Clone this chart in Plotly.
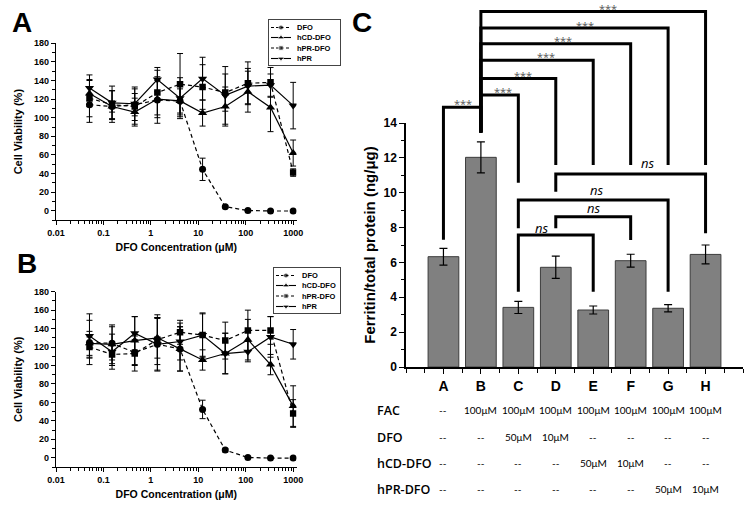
import plotly.graph_objects as go

W, H = 750, 511

# ---------------- data: panels A and B (cell viability, %) ----------------
conc_uM = [0.0508, 0.152, 0.457, 1.37, 4.12, 12.3, 37.0, 111.0, 333.0, 1000.0]
series_names = ["DFO", "hCD-DFO", "hPR-DFO", "hPR"]

a_dfo = [114, 112, 114, 119, 118, 44.5, 4.3, 0.2, -0.3, -0.3]
a_dfo_err = [19, 6, 12, 25, 17, 12, 1.5, 0.5, 0.5, 0.5]
a_hcd = [126, 112, 106, 120, 118, 105, 112, 128, 111, 62]
a_hcd_err = [14, 17, 15, 20, 13, 14, 21, 22, 26, 14]
a_hprdfo = [121, 114, 112, 127, 136, 133, 127, 137, 138, 41]
a_hprdfo_err = [20, 15, 19, 24, 33, 24, 20, 23, 16, 4]
a_hpr = [132, 116, 115, 141, 121, 142, 124, 134, 135, 113]
a_hpr_err = [14, 18, 18, 13, 22, 23, 31, 19, 12, 25]

b_dfo = [125, 124, 114, 123, 118, 52.4, 8.3, 0.3, -0.3, -0.3]
b_dfo_err = [24, 18, 14, 28, 24, 10, 2, 0.6, 0.5, 0.5]
b_hcd = [124, 123, 127, 130, 118, 106, 113, 128, 101, 56]
b_hcd_err = [13, 21, 26, 22, 24, 11, 22, 22, 11, 22]
b_hprdfo = [120, 112, 113, 128, 136, 133, 127, 138, 138, 48]
b_hprdfo_err = [11, 12, 19, 27, 13, 24, 20, 22, 15, 15]
b_hpr = [132, 115, 135, 123, 126, 133, 113, 115, 131, 123]
b_hpr_err = [24, 19, 18, 29, 20, 23, 22, 11, 22, 16]

x_tick_vals = [0.01, 0.1, 1, 10, 100, 1000]
x_tick_text = ["0.01", "0.1", "1", "10", "100", "1000"]
y_tick_vals_ab = [0, 20, 40, 60, 80, 100, 120, 140, 160, 180]

# ---------------- data: panel C (ferritin / total protein, ng/ug) ----------------
groups = ["A", "B", "C", "D", "E", "F", "G", "H"]
ferritin = [6.33, 12.03, 3.42, 5.72, 3.27, 6.10, 3.37, 6.46]
ferritin_err = [0.48, 0.89, 0.35, 0.64, 0.23, 0.37, 0.21, 0.54]
y_tick_vals_c = [0, 2, 4, 6, 8, 10, 12, 14]

table_labels = ["FAC", "DFO", "hCD-DFO", "hPR-DFO"]
row_fac = ["--", "100μM", "100μM", "100μM", "100μM", "100μM", "100μM", "100μM"]
row_dfo = ["--", "--", "50μM", "10μM", "--", "--", "--", "--"]
row_hcd = ["--", "--", "--", "--", "50μM", "10μM", "--", "--"]
row_hpr = ["--", "--", "--", "--", "--", "--", "50μM", "10μM"]

# significance brackets (group indices, heights in ng/ug)
sig_pairs = [(0, 1), (1, 2), (1, 3), (1, 4), (1, 5), (1, 6), (1, 7), (3, 7), (2, 6), (3, 5), (2, 4)]
sig_text = ["***"] * 7 + ["ns"] * 4
bracket_top = [14.9, 15.6, 16.55, 17.6, 18.55, 19.45, 20.4, 11.07, 9.58, 8.62, 7.57]
bracket_left_end = [7.3, 13.45, 13.45, 13.45, 13.45, 13.45, 13.45, 10.06, 7.96, 7.96, 4.32]
bracket_right_end = [13.45, 10.57, 11.59, 11.59, 11.59, 11.59, 11.59, 7.67, 4.32, 7.28, 4.32]
sig_label_x = [0.52, 1.6, 2.13, 2.73, 3.19, 3.78, 4.4, 5.45, 4.1, 4.0, 2.63]
sig_label_y = [15.12, 15.82, 16.72, 17.82, 18.72, 19.6, 20.55, 11.7, 10.15, 9.12, 8.0]

# ---------------- helpers ----------------
def fx(p):
    return p / W

def fy(p):
    return 1 - p / H

ARIAL = "Liberation Sans"
BOLD = dict(family=ARIAL, color="black", weight="bold")

def font(size, **kw):
    d = dict(BOLD)
    d["size"] = size
    d.update(kw)
    return d

fig = go.Figure()

styles = [
    dict(symbol="circle", size=7, dash="4px,3px"),
    dict(symbol="triangle-up", size=8, dash="solid"),
    dict(symbol="square", size=6.5, dash="4px,3px"),
    dict(symbol="triangle-down", size=8, dash="solid"),
]

panels = [
    ("x", "y", [a_dfo, a_hcd, a_hprdfo, a_hpr], [a_dfo_err, a_hcd_err, a_hprdfo_err, a_hpr_err]),
    ("x2", "y2", [b_dfo, b_hcd, b_hprdfo, b_hpr], [b_dfo_err, b_hcd_err, b_hprdfo_err, b_hpr_err]),
]
for xa, ya, vals, errs in panels:
    for name, st, v, e in zip(series_names, styles, vals, errs):
        fig.add_trace(go.Scatter(
            x=conc_uM, y=v, name=name, mode="lines+markers", xaxis=xa, yaxis=ya,
            line=dict(color="black", width=1.2, dash=st["dash"]),
            marker=dict(symbol=st["symbol"], size=st["size"], color="black"),
            error_y=dict(type="data", array=e, color="black", thickness=1, width=3),
            showlegend=False,
        ))

# ---------------- panel C bars ----------------
fig.add_trace(go.Bar(
    x=list(range(len(groups))), y=ferritin, xaxis="x3", yaxis="y3", width=0.82,
    marker=dict(color="#808080", line=dict(color="#3c3c3c", width=1)),
    error_y=dict(type="data", array=ferritin_err, color="black", thickness=1.2, width=4),
    showlegend=False,
))

for (i, j), top, le, re in zip(sig_pairs, bracket_top, bracket_left_end, bracket_right_end):
    fig.add_trace(go.Scatter(
        x=[i, i, j, j], y=[le, top, top, re], mode="lines", xaxis="x3", yaxis="y4",
        line=dict(color="black", width=3), showlegend=False, hoverinfo="skip",
    ))

annotations = []
for t, lx, ly in zip(sig_text, sig_label_x, sig_label_y):
    if t == "ns":
        f = dict(family="Open Sans", size=13, color="black", style="italic")
    else:
        f = dict(family="Open Sans", size=11, color="#555555")
    annotations.append(dict(text=t, x=lx, y=ly, xref="x3", yref="y4", showarrow=False,
                            font=f, xanchor="center", yanchor="middle"))

# table below panel C
row_px = [410, 437, 463, 489]
for lab, row, ypx in zip(table_labels, [row_fac, row_dfo, row_hcd, row_hpr], row_px):
    annotations.append(dict(text=lab, x=fx(375), y=fy(ypx), xref="paper", yref="paper",
                            showarrow=False, xanchor="left", yanchor="middle",
                            font=dict(family="Open Sans", size=12.5, color="black", weight=600)))
    for k, cell in enumerate(row):
        annotations.append(dict(text=cell, x=k, y=fy(ypx), xref="x3", yref="paper",
                                showarrow=False, xanchor="center", yanchor="middle",
                                font=dict(family="Lato", size=10, color="black")))

# panel letters
for letter, cx, cy in [("A", 22, 22), ("B", 27, 263), ("C", 362, 22)]:
    annotations.append(dict(text=letter, x=fx(cx), y=fy(cy), xref="paper", yref="paper",
                            showarrow=False, xanchor="center", yanchor="middle", font=font(28)))

# ---------------- custom small legends for A and B ----------------
legend_rows = [7.5, 17.5, 28.0, 38.5]
for lx_ax, ly_ax in [("x5", "y5"), ("x6", "y6")]:
    for name, st, ry in zip(series_names, styles, legend_rows):
        fig.add_trace(go.Scatter(
            x=[2, 12, 22], y=[ry, ry, ry], mode="lines+markers", xaxis=lx_ax, yaxis=ly_ax,
            line=dict(color="black", width=1.1, dash="3px,2px" if st["dash"] != "solid" else "solid"),
            marker=dict(symbol=st["symbol"], size=[0, st["size"] - 2, 0], color="black"),
            showlegend=False, hoverinfo="skip",
        ))
        annotations.append(dict(text=name, x=26, y=ry, xref=lx_ax, yref=ly_ax, showarrow=False,
                                xanchor="left", yanchor="middle", font=font(7.5)))

# ---------------- axes ----------------
minor_log = [k * 10 ** e for e in range(-2, 3) for k in range(2, 10)]

def xaxis_ab(anchor):
    return dict(
        type="log", range=[-2, 3.07], anchor=anchor, domain=[fx(56), fx(296.5)],
        showline=True, linecolor="black", linewidth=1.3, mirror=False, automargin=False,
        ticks="outside", ticklen=4, tickwidth=1.2, tickcolor="black",
        tickvals=x_tick_vals, ticktext=x_tick_text, tickfont=font(9),
        minor=dict(ticks="outside", ticklen=2.5, tickwidth=1, tickcolor="black", tickvals=minor_log),
        showgrid=False, zeroline=False,
        title=dict(text="DFO Concentration (μM)", font=font(10.5), standoff=6),
    )

def yaxis_ab(anchor, top_px, bot_px):
    return dict(
        range=[-10, 180], anchor=anchor, domain=[fy(bot_px), fy(top_px)], automargin=False,
        showline=True, linecolor="black", linewidth=1.3,
        ticks="outside", ticklen=4, tickwidth=1.2, tickcolor="black",
        tickvals=y_tick_vals_ab, tickfont=font(9),
        minor=dict(ticks="outside", ticklen=2.5, tickwidth=1, tickcolor="black", tick0=0, dtick=10),
        showgrid=False, zeroline=False,
        title=dict(text="Cell Viability (%)", font=font(11), standoff=9),
    )

c_bot, c_top = 367, 123
c_dom = [fy(c_bot), fy(c_top)]
y4_top = 14 * (1 - c_dom[0]) / (c_dom[1] - c_dom[0])

def legend_axes(x0, x1, y0, y1, anchor):
    xa = dict(domain=[fx(x0), fx(x1)], range=[0, x1 - x0], anchor=anchor[1], automargin=False,
              showline=True, mirror=True, linecolor="#444444", linewidth=1,
              showticklabels=False, ticks="", showgrid=False, zeroline=False, fixedrange=True)
    ya = dict(domain=[fy(y1), fy(y0)], range=[y1 - y0, 0], anchor=anchor[0], automargin=False,
              showline=True, mirror=True, linecolor="#444444", linewidth=1,
              showticklabels=False, ticks="", showgrid=False, zeroline=False, fixedrange=True)
    return xa, ya

x5, y5 = legend_axes(269, 340, 20, 65, ("x5", "y5"))
x6, y6 = legend_axes(274, 340, 268, 313, ("x6", "y6"))

fig.update_layout(
    template="none",
    width=W, height=H, margin=dict(l=0, r=0, t=0, b=0, pad=0), autosize=False,
    paper_bgcolor="white", plot_bgcolor="rgba(0,0,0,0)",
    xaxis=xaxis_ab("y"),
    yaxis=yaxis_ab("x", 43.3, 220),
    xaxis2=xaxis_ab("y2"),
    yaxis2=yaxis_ab("x2", 291.7, 467),
    xaxis3=dict(
        range=[-1, 8], anchor="y3", domain=[fx(406), fx(743)], automargin=False,
        showline=True, linecolor="black", linewidth=1.5,
        ticks="outside", ticklen=5, tickwidth=1.3, tickcolor="black",
        tickvals=list(range(len(groups))), ticktext=groups, tickfont=font(14),
        minor=dict(ticks="outside", ticklen=4, tickwidth=1.2, tickcolor="black", tick0=-1, dtick=0.5),
        showgrid=False, zeroline=False,
    ),
    yaxis3=dict(
        range=[0, 14], anchor="x3", domain=c_dom, automargin=False,
        showline=True, linecolor="black", linewidth=1.5,
        ticks="outside", ticklen=5, tickwidth=1.3, tickcolor="black",
        tickvals=y_tick_vals_c, tickfont=font(12),
        minor=dict(ticks="outside", ticklen=3, tickwidth=1.1, tickcolor="black", tick0=0, dtick=1),
        showgrid=False, zeroline=False,
        title=dict(text="Ferritin/total protein (ng/μg)", font=font(15), standoff=4),
    ),
    yaxis4=dict(range=[0, y4_top], anchor="x3", domain=[c_dom[0], 1.0], visible=False,
                automargin=False, showgrid=False, zeroline=False, fixedrange=True),
    xaxis5=x5, yaxis5=y5, xaxis6=x6, yaxis6=y6,
    annotations=annotations,
    bargap=0.18,
    showlegend=False,
)

fig.write_html(
    "out.html",
    config={"displayModeBar": False},
    post_script="document.body.style.margin='0';document.body.style.padding='0';"
                "document.body.style.overflow='hidden';",
)
